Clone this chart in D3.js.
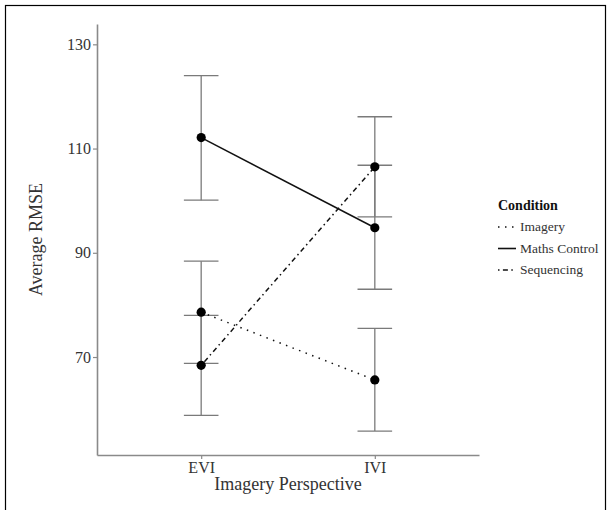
<!DOCTYPE html>
<html>
<head>
<meta charset="utf-8">
<script src="https://cdn.jsdelivr.net/npm/d3@7"></script>
<style>
  body { margin: 0; background: #fff; }
  svg text { font-family: "Liberation Serif", "DejaVu Serif", serif; }
</style>
</head>
<body>
<div id="graphicContainer"></div>
<script>

const perspectives = ["EVI", "IVI"]
const conditions = ["Imagery", "Maths Control", "Sequencing"]
const yTicks = [70, 90, 110, 130]

// mean, lower and upper error bar per condition, EVI then IVI
const imageryMean = [78.6, 65.6]
const imageryLow = [68.8, 55.8]
const imageryHigh = [88.4, 75.5]

const mathsMean = [112.1, 94.8]
const mathsLow = [100.1, 83.0]
const mathsHigh = [124.0, 106.8]

const sequencingMean = [68.4, 106.5]
const sequencingLow = [58.8, 96.9]
const sequencingHigh = [78.0, 116.1]

const series = [
  { key: conditions[0], mean: imageryMean, low: imageryLow, high: imageryHigh, dash: "1.5,5.5" },
  { key: conditions[1], mean: mathsMean, low: mathsLow, high: mathsHigh, dash: null },
  { key: conditions[2], mean: sequencingMean, low: sequencingLow, high: sequencingHigh, dash: "1.5,3.4,5,3.4" }
]

const serif = "'Liberation Serif', 'DejaVu Serif', serif"

const width = 611
const height = 510

const svg = d3.select("#graphicContainer").append("svg")
  .attr("width", width)
  .attr("height", height)

// outer frame
svg.append("rect")
  .attr("x", 5.5)
  .attr("y", 5.5)
  .attr("width", 600)
  .attr("height", 520)
  .attr("fill", "none")
  .attr("stroke", "#000")
  .attr("stroke-width", 1.2)

const panel = { left: 97, right: 479, top: 24, bottom: 455 }

const x = d3.scalePoint()
  .domain(perspectives)
  .range([panel.left, panel.right])
  .padding(0.6)

const y = d3.scaleLinear()
  .domain([51.2, 133.9])
  .range([panel.bottom, panel.top])

const axisColor = "#8a8a8a"

const yAxis = svg.append("g")
  .attr("transform", `translate(${panel.left},0)`)
  .call(d3.axisLeft(y).tickValues(yTicks).tickSize(4).tickPadding(2).tickSizeOuter(0))

const xAxis = svg.append("g")
  .attr("transform", `translate(0,${panel.bottom})`)
  .call(d3.axisBottom(x).tickSize(4).tickPadding(3).tickSizeOuter(0))

;[xAxis, yAxis].forEach(g => {
  g.attr("font-family", serif)
  g.select(".domain").attr("stroke", axisColor).attr("stroke-width", 1.6)
  g.selectAll(".tick line").attr("stroke", axisColor).attr("stroke-width", 1.2)
  g.selectAll(".tick text")
    .attr("fill", "#333")
    .style("font-size", "16px")
    .style("font-family", serif)
})

// error bars
const capHalf = 17.3

series.forEach(s => {

  perspectives.forEach((p, i) => {

    const g = svg.append("g")
      .attr("stroke", "#7a7a7a")
      .attr("stroke-width", 1.3)

    g.append("line")
      .attr("x1", x(p)).attr("x2", x(p))
      .attr("y1", y(s.low[i])).attr("y2", y(s.high[i]))

    g.append("line")
      .attr("x1", x(p) - capHalf).attr("x2", x(p) + capHalf)
      .attr("y1", y(s.low[i])).attr("y2", y(s.low[i]))

    g.append("line")
      .attr("x1", x(p) - capHalf).attr("x2", x(p) + capHalf)
      .attr("y1", y(s.high[i])).attr("y2", y(s.high[i]))

  })

})

// lines
const line = d3.line()
  .x((d, i) => x(perspectives[i]))
  .y(d => y(d))

series.forEach(s => {

  svg.append("path")
    .datum(s.mean)
    .attr("d", line)
    .attr("fill", "none")
    .attr("stroke", "#111")
    .attr("stroke-width", 1.5)
    .attr("stroke-dasharray", s.dash)

})

// points
series.forEach(s => {

  svg.append("g")
    .selectAll("circle")
    .data(s.mean)
    .enter()
    .append("circle")
    .attr("cx", (d, i) => x(perspectives[i]))
    .attr("cy", d => y(d))
    .attr("r", 4.6)
    .attr("fill", "#000")

})

// axis titles
svg.append("text")
  .attr("x", (panel.left + panel.right) / 2)
  .attr("y", 490)
  .attr("text-anchor", "middle")
  .attr("fill", "#333")
  .style("font-family", serif)
  .style("font-size", "18px")
  .text("Imagery Perspective")

svg.append("text")
  .attr("transform", `translate(42,${(panel.top + panel.bottom) / 2}) rotate(-90)`)
  .attr("text-anchor", "middle")
  .attr("fill", "#333")
  .style("font-family", serif)
  .style("font-size", "18px")
  .text("Average RMSE")

// legend
const legend = svg.append("g")
  .attr("transform", "translate(498,0)")

legend.append("text")
  .attr("x", 0)
  .attr("y", 210)
  .attr("fill", "#111")
  .style("font-family", serif)
  .style("font-size", "14px")
  .style("font-weight", "bold")
  .text("Condition")

series.forEach((s, i) => {

  const cy = 227 + i * 21.5

  legend.append("line")
    .attr("x1", 0).attr("x2", 18)
    .attr("y1", cy).attr("y2", cy)
    .attr("stroke", "#111")
    .attr("stroke-width", 1.6)
    .attr("stroke-dasharray", s.dash)

  legend.append("text")
    .attr("x", 22)
    .attr("y", cy + 4)
    .attr("fill", "#333")
    .style("font-family", serif)
    .style("font-size", "13.5px")
    .text(s.key)

})

</script>
</body>
</html>
